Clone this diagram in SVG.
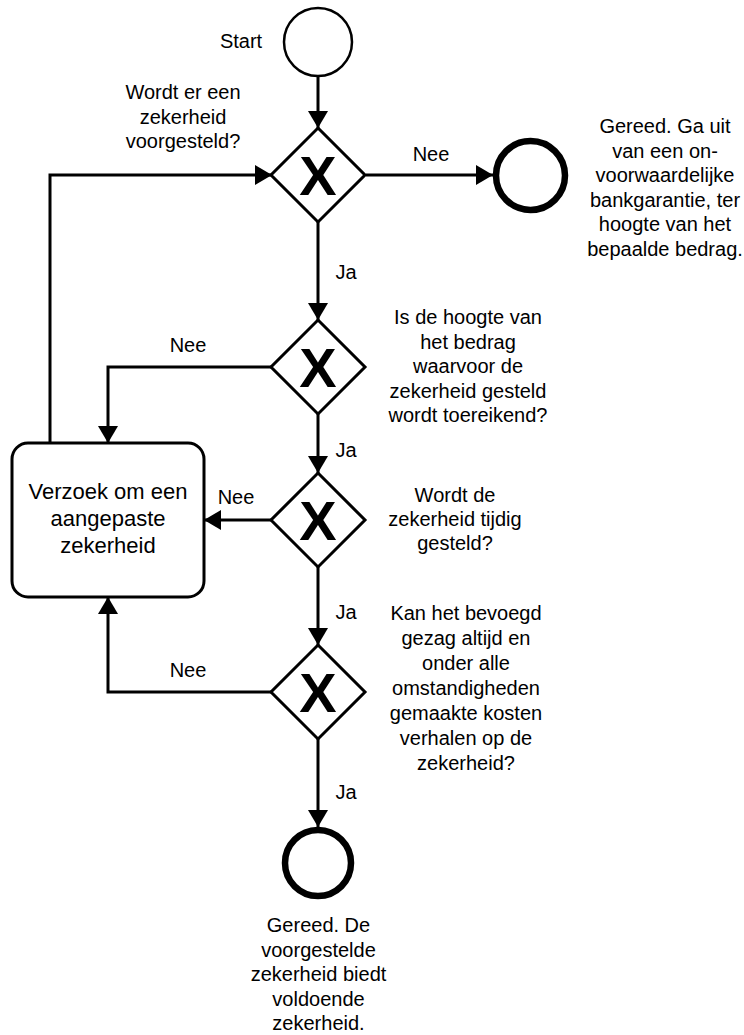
<svg xmlns="http://www.w3.org/2000/svg" width="744" height="1035" viewBox="0 0 744 1035">
<style>
  .t { font-family: "Liberation Sans", Arial, Helvetica, sans-serif; font-size: 20px; fill: #000; text-anchor: middle; }
  .box { font-size: 22px; }
  .x { font-family: "Liberation Sans", Arial, Helvetica, sans-serif; font-weight: bold; font-size: 56px; fill: #000; text-anchor: middle; }
  .gw { fill: #fff; stroke: #000; stroke-width: 3; stroke-linejoin: miter; }
  .start { fill: #fff; stroke: #000; stroke-width: 2.5; }
  .end { fill: #fff; stroke: #000; stroke-width: 6.5; }
  .task { fill: #fff; stroke: #000; stroke-width: 3; }
  .c { fill: none; stroke: #000; stroke-width: 3; marker-end: url(#arr); }
</style>
<defs>
  <marker id="arr" markerUnits="userSpaceOnUse" markerWidth="17" markerHeight="20" refX="17" refY="10" orient="auto">
    <path d="M0,0 L17,10 L0,20 Z" fill="#000"/>
  </marker>
</defs>
<rect width="744" height="1035" fill="#fff"/>

<g id="connectors">
  <path class="c" d="M318,77 L318,128"/>
  <path class="c" d="M366,175 L493,175"/>
  <path class="c" d="M318,222 L318,320"/>
  <path class="c" d="M50,443 L50,175 L272,175"/>
  <path class="c" d="M271,367 L108,367 L108,443"/>
  <path class="c" d="M318,414 L318,473"/>
  <path class="c" d="M271,520 L204,520"/>
  <path class="c" d="M318,567 L318,645"/>
  <path class="c" d="M271,692 L108,692 L108,597"/>
  <path class="c" d="M318,739 L318,827"/>
  <text class="t" x="431" y="161">Nee</text>
  <text class="t" x="346" y="279">Ja</text>
  <text class="t" x="188" y="352">Nee</text>
  <text class="t" x="346" y="457">Ja</text>
  <text class="t" x="236" y="504">Nee</text>
  <text class="t" x="346" y="619">Ja</text>
  <text class="t" x="188" y="677">Nee</text>
  <text class="t" x="346" y="799">Ja</text>
</g>

<g id="start">
  <circle class="start" cx="318" cy="42" r="34"/>
  <text class="t" x="241" y="48">Start</text>
</g>

<g id="gateway1">
  <polygon class="gw" points="318,128 365,175 318,222 271,175"/>
  <text class="x" x="318" y="195">X</text>
  <text class="t" x="183" y="99">Wordt er een</text>
  <text class="t" x="183" y="124">zekerheid</text>
  <text class="t" x="183" y="148">voorgesteld?</text>
</g>

<g id="end-bankgarantie">
  <circle class="end" cx="530.5" cy="175.5" r="34.5"/>
  <text class="t" x="665" y="133">Gereed. Ga uit</text>
  <text class="t" x="665" y="157.5">van een on-</text>
  <text class="t" x="665" y="182">voorwaardelijke</text>
  <text class="t" x="665" y="206.5">bankgarantie, ter</text>
  <text class="t" x="665" y="231">hoogte van het</text>
  <text class="t" x="665" y="255.5">bepaalde bedrag.</text>
</g>

<g id="gateway2">
  <polygon class="gw" points="318,320 365,367 318,414 271,367"/>
  <text class="x" x="318" y="387">X</text>
  <text class="t" x="468" y="324">Is de hoogte van</text>
  <text class="t" x="468" y="348.5">het bedrag</text>
  <text class="t" x="468" y="373">waarvoor de</text>
  <text class="t" x="468" y="397.5">zekerheid gesteld</text>
  <text class="t" x="468" y="422">wordt toereikend?</text>
</g>

<g id="task-verzoek">
  <rect class="task" x="12" y="443" width="192" height="154" rx="16" ry="16"/>
  <text class="t box" x="108" y="499">Verzoek om een</text>
  <text class="t box" x="108" y="526">aangepaste</text>
  <text class="t box" x="108" y="553">zekerheid</text>
</g>

<g id="gateway3">
  <polygon class="gw" points="318,473 365,520 318,567 271,520"/>
  <text class="x" x="318" y="540">X</text>
  <text class="t" x="455" y="502">Wordt de</text>
  <text class="t" x="455" y="526">zekerheid tijdig</text>
  <text class="t" x="455" y="550">gesteld?</text>
</g>

<g id="gateway4">
  <polygon class="gw" points="318,645 365,692 318,739 271,692"/>
  <text class="x" x="318" y="712">X</text>
  <text class="t" x="466" y="620">Kan het bevoegd</text>
  <text class="t" x="466" y="645">gezag altijd en</text>
  <text class="t" x="466" y="670">onder alle</text>
  <text class="t" x="466" y="695">omstandigheden</text>
  <text class="t" x="466" y="720">gemaakte kosten</text>
  <text class="t" x="466" y="745">verhalen op de</text>
  <text class="t" x="466" y="770">zekerheid?</text>
</g>

<g id="end-voldoende">
  <circle class="end" cx="318" cy="863" r="33"/>
  <text class="t" x="318.5" y="932">Gereed. De</text>
  <text class="t" x="318.5" y="956.5">voorgestelde</text>
  <text class="t" x="318.5" y="981">zekerheid biedt</text>
  <text class="t" x="318.5" y="1005.5">voldoende</text>
  <text class="t" x="318.5" y="1030">zekerheid.</text>
</g>
</svg>
